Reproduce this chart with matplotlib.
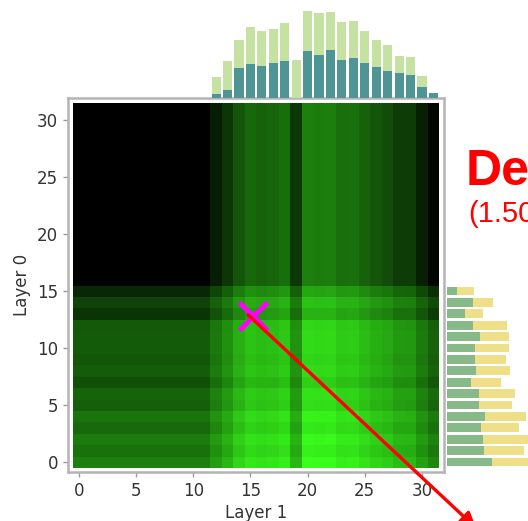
import numpy as np
import matplotlib
matplotlib.use('Agg')
import matplotlib.pyplot as plt
from matplotlib.colors import LinearSegmentedColormap

# per-column marginals (columns 12..31)
col_idx = np.arange(12, 32)
col_teal = [4, 8, 30, 34, 32, 35, 37, 0, 47, 43, 48, 38, 40, 35, 31, 27, 25, 23, 11, 5]
col_light = [17, 29, 28, 37, 35, 34, 38, 38, 40, 42, 38, 38, 37, 32, 27, 26, 17, 18, 11, 0]

# per-row marginals (rows 0..15)
row_idx = np.arange(0, 16)
row_green = [45, 37, 36, 34, 38, 32, 32, 24, 29, 28, 28, 33, 26, 18, 26, 10]
row_yellow = [42, 40, 48, 38, 41, 33, 36, 30, 34, 31, 34, 29, 34, 18, 20, 17]

n_layers = 32
marker_pt = (15.2, 12.8)

# heat = row strength + column strength
col_tot = np.zeros(n_layers)
col_tot[col_idx] = np.array(col_teal) + np.array(col_light)
row_tot = np.zeros(n_layers)
row_tot[row_idx] = np.array(row_green) + np.array(row_yellow)
heat = row_tot[:, None] + col_tot[None, :]

cmap = LinearSegmentedColormap.from_list('blackgreen', ['#000000', '#3aff1c'])

W, H = 528, 521
fig = plt.figure(figsize=(W / 100, H / 100), dpi=100)

def box(l, t, r, b):
    return [l / W, 1 - b / H, (r - l) / W, (b - t) / H]

ax = fig.add_axes(box(67.7, 97.7, 444, 472.3))
ax.imshow(heat, cmap=cmap, origin='lower', aspect='auto', interpolation='nearest',
          extent=(-0.5, n_layers - 0.5, -0.5, n_layers - 0.5), vmin=0, vmax=heat.max())
ax.set_xlim(-0.99, 31.93)
ax.set_ylim(-0.9, 31.96)
ax.set_xticks(range(0, 31, 5))
ax.set_yticks(range(0, 31, 5))
ax.tick_params(colors='#999999', labelcolor='#333333', labelsize=12, length=3.5, width=1)
for s in ax.spines.values():
    s.set_color('#b4b4b4')
    s.set_linewidth(1.8)
ax.set_xlabel('Layer 1', fontsize=12, color='#333333', labelpad=3)
ax.set_ylabel('Layer 0', fontsize=12, color='#333333', labelpad=4)

ax.plot(*marker_pt, marker='x', color='#ff00ff', markersize=20, mew=3.5, zorder=5)
ax.annotate('', xy=(476 / W, 1 - 528 / H), xycoords='figure fraction',
            xytext=(14.8, 12.9), textcoords='data',
            arrowprops=dict(arrowstyle='-|>,head_length=0.9,head_width=0.45', color='red',
                            lw=2.4, shrinkA=0, shrinkB=0),
            annotation_clip=False, zorder=6)

# top marginal
axt = fig.add_axes(box(67.7, 0, 444, 97.7))
axt.bar(col_idx, col_teal, width=0.8, color='#4f9595')
axt.bar(col_idx, col_light, bottom=col_teal, width=0.8, color='#c6e2a2')
axt.set_xlim(ax.get_xlim())
axt.set_ylim(0, 97.7)
axt.axis('off')

# right marginal
axr = fig.add_axes(box(446.5, 97.7, 546.5, 472.3))
axr.barh(row_idx, row_green, height=0.78, color='#88b988')
axr.barh(row_idx, row_yellow, left=row_green, height=0.78, color='#efdf88')
axr.set_ylim(ax.get_ylim())
axr.set_xlim(0, 100)
axr.axis('off')

fig.text(466 / W, 1 - 185 / H, 'Dense', fontsize=36, fontweight='bold', color='red',
         family='Liberation Sans', va='baseline', ha='left')
fig.text(468 / W, 1 - 222 / H, '(1.50×)', fontsize=21, color='red',
         family='Liberation Sans', va='baseline', ha='left')

fig.savefig('out.png', dpi=100)
